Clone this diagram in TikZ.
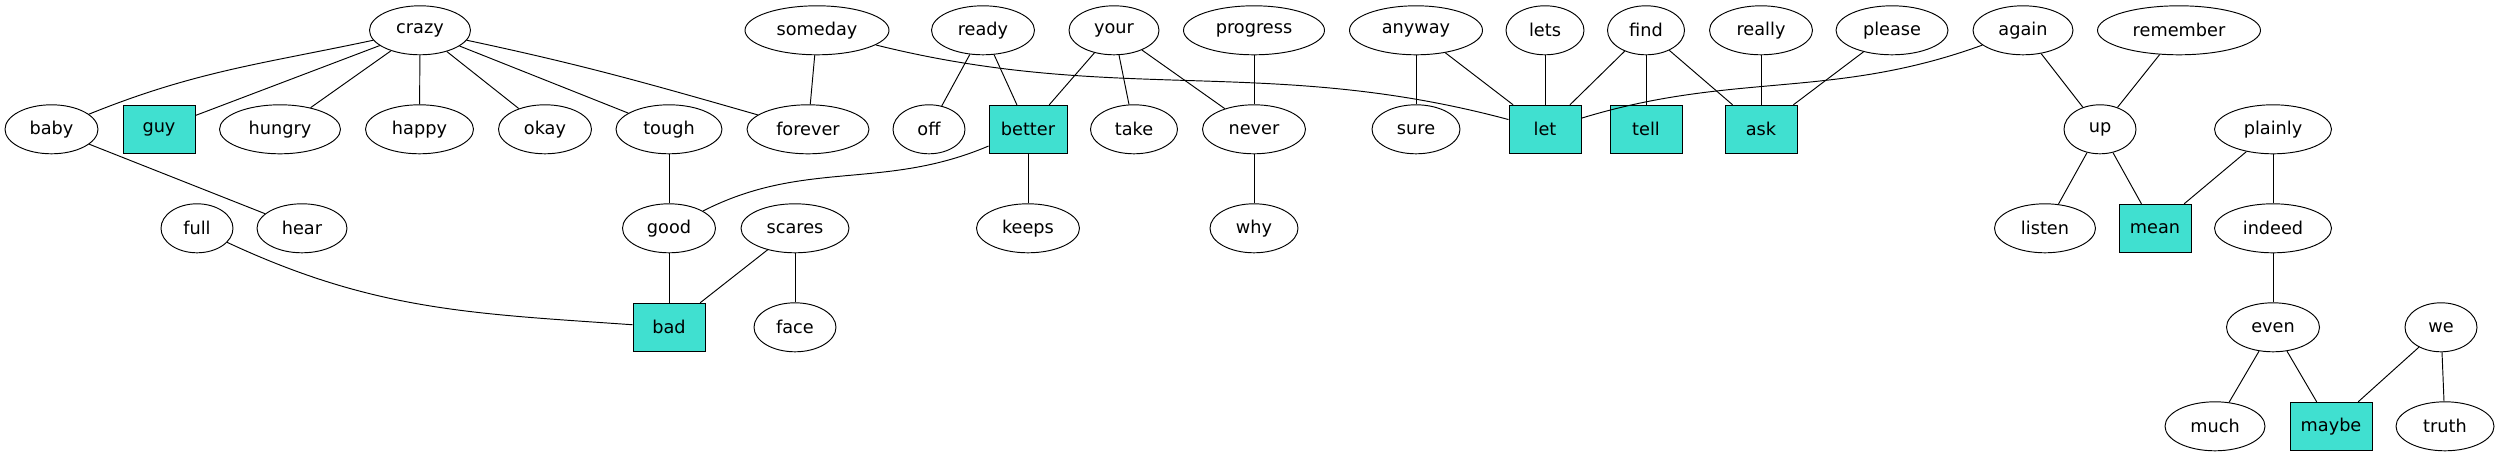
\documentclass[tikz,border=0pt]{standalone}
\usepackage{fontspec}
\setmainfont{DejaVu Sans}
\usetikzlibrary{shapes.geometric}
\definecolor{turq}{HTML}{40E0D0}
\begin{document}
\begin{tikzpicture}[x=1pt,y=1pt,
  el/.style={ellipse, draw, line width=0.95pt, inner sep=0pt, minimum height=49pt, font=\fontsize{17.7}{20}\selectfont},
  bx/.style={rectangle, draw, line width=0.95pt, fill=turq, inner sep=0pt, minimum height=48pt, minimum width=72pt, font=\fontsize{17.7}{20}\selectfont},
  ed/.style={line width=0.95pt}]
\useasboundingbox (0,0) rectangle (2501,456);
% row 1
\def\ra{425.7}\def\rb{326.7}\def\rc{227.7}\def\rd{128.7}\def\re{29.7}
\node[el, minimum width=101pt] (crazy) at (420,\ra) {crazy};
\node[el, minimum width=144pt] (someday) at (817,\ra) {someday};
\node[el, minimum width=103pt] (ready) at (983,\ra) {ready};
\node[el, minimum width=90pt] (your) at (1114,\ra) {your};
\node[el, minimum width=141pt] (progress) at (1254,\ra) {progress};
\node[el, minimum width=133pt] (anyway) at (1416,\ra) {anyway};
\node[el, minimum width=78pt] (lets) at (1545,\ra) {lets};
\node[el, minimum width=77pt] (find) at (1646,\ra) {find};
\node[el, minimum width=103pt] (really) at (1761,\ra) {really};
\node[el, minimum width=112pt] (please) at (1892,\ra) {please};
\node[el, minimum width=100pt] (again) at (2023,\ra) {again};
\node[el, minimum width=163pt] (remember) at (2179,\ra) {remember};
% row 2
\node[el, minimum width=93pt] (baby) at (51.5,\rb) {baby};
\node[bx] (guy) at (159,\rb) {guy};
\node[el, minimum width=121pt] (hungry) at (280,\rb) {hungry};
\node[el, minimum width=108pt] (happy) at (419.5,\rb) {happy};
\node[el, minimum width=93pt] (okay) at (545,\rb) {okay};
\node[el, minimum width=106pt] (tough) at (669,\rb) {tough};
\node[el, minimum width=122pt] (forever) at (808,\rb) {forever};
\node[el, minimum width=72pt] (off) at (929,\rb) {off};
\node[bx, minimum width=78pt] (better) at (1028,\rb) {better};
\node[el, minimum width=87pt] (take) at (1134,\rb) {take};
\node[el, minimum width=103pt] (never) at (1254,\rb) {never};
\node[el, minimum width=88pt] (sure) at (1416,\rb) {sure};
\node[bx] (let) at (1545,\rb) {let};
\node[bx] (tell) at (1646,\rb) {tell};
\node[bx] (ask) at (1761,\rb) {ask};
\node[el, minimum width=72pt] (up) at (2100,\rb) {up};
\node[el, minimum width=117pt] (plainly) at (2273,\rb) {plainly};
% row 3
\node[el, minimum width=72pt] (full) at (197,\rc) {full};
\node[el, minimum width=90pt] (hear) at (302,\rc) {hear};
\node[el, minimum width=93pt] (good) at (669,\rc) {good};
\node[el, minimum width=108pt] (scares) at (795,\rc) {scares};
\node[el, minimum width=103pt] (keeps) at (1028,\rc) {keeps};
\node[el, minimum width=88pt] (why) at (1254,\rc) {why};
\node[el, minimum width=101pt] (listen) at (2045,\rc) {listen};
\node[bx] (mean) at (2155,\rc) {mean};
\node[el, minimum width=117pt] (indeed) at (2273,\rc) {indeed};
% row 4
\node[bx] (bad) at (669,\rd) {bad};
\node[el, minimum width=82pt] (face) at (795,\rd) {face};
\node[el, minimum width=93pt] (even) at (2273,\rd) {even};
\node[el, minimum width=72pt] (we) at (2441,\rd) {we};
% row 5
\node[el, minimum width=100pt] (much) at (2215,\re) {much};
\node[bx, minimum width=82pt] (maybe) at (2331,\re) {maybe};
\node[el, minimum width=98pt] (truth) at (2445,\re) {truth};
% edges
\draw[ed] (crazy) to[out=-168,in=22] (baby);
\draw[ed] (crazy) -- (guy);
\draw[ed] (crazy) -- (hungry);
\draw[ed] (crazy) -- (happy);
\draw[ed] (crazy) -- (okay);
\draw[ed] (crazy) -- (tough);
\draw[ed] (crazy) to[out=-12,in=164] (forever);
\draw[ed] (someday) -- (forever);
\draw[ed] (someday) to[out=-14,in=165] (let);
\draw[ed] (baby) -- (hear);
\draw[ed] (tough) -- (good);
\draw[ed] (good) to[out=27,in=-157] (better);
\draw[ed] (good) -- (bad);
\draw[ed] (full) to[out=-25,in=176] (bad);
\draw[ed] (scares) -- (bad);
\draw[ed] (scares) -- (face);
\draw[ed] (ready) -- (off);
\draw[ed] (ready) -- (better);
\draw[ed] (your) -- (better);
\draw[ed] (your) -- (take);
\draw[ed] (your) -- (never);
\draw[ed] (progress) -- (never);
\draw[ed] (never) -- (why);
\draw[ed] (better) -- (keeps);
\draw[ed] (anyway) -- (sure);
\draw[ed] (anyway) -- (let);
\draw[ed] (lets) -- (let);
\draw[ed] (find) -- (let);
\draw[ed] (find) -- (tell);
\draw[ed] (find) -- (ask);
\draw[ed] (again) to[out=-160,in=17] (let);
\draw[ed] (really) -- (ask);
\draw[ed] (please) -- (ask);
\draw[ed] (again) -- (up);
\draw[ed] (remember) -- (up);
\draw[ed] (up) -- (listen);
\draw[ed] (up) -- (mean);
\draw[ed] (plainly) -- (mean);
\draw[ed] (plainly) -- (indeed);
\draw[ed] (indeed) -- (even);
\draw[ed] (even) -- (much);
\draw[ed] (even) -- (maybe);
\draw[ed] (we) -- (maybe);
\draw[ed] (we) -- (truth);
\end{tikzpicture}
\end{document}
